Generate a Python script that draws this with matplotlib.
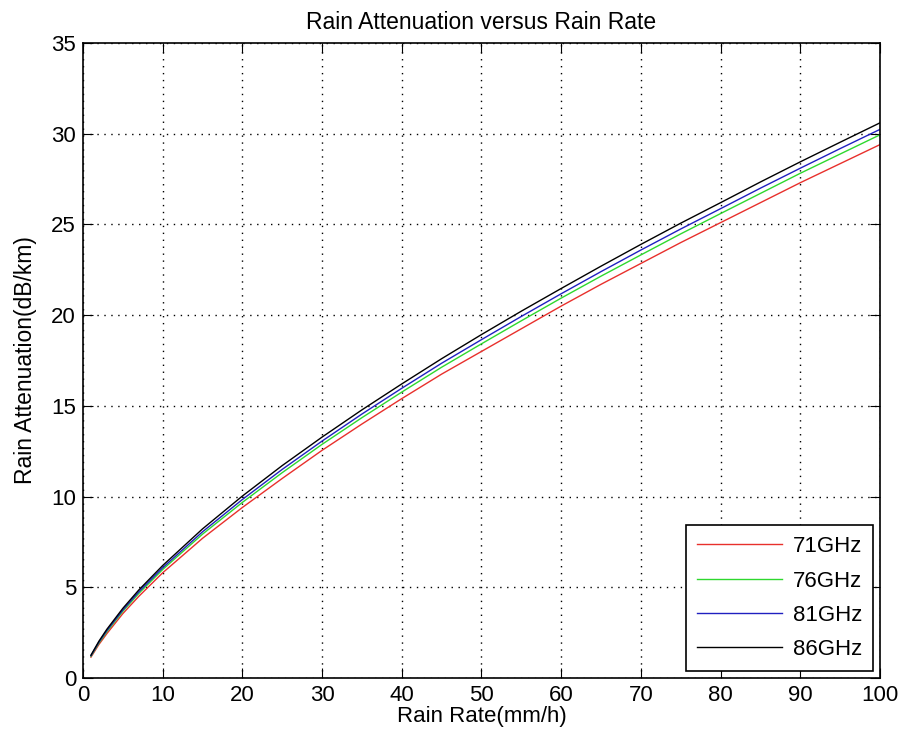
import matplotlib
matplotlib.use("Agg")
import matplotlib.pyplot as plt

plt.rcParams['font.family'] = ['Liberation Sans', 'DejaVu Sans']

# rain rate (mm/h)
rate = [1, 2, 3, 5, 7, 10, 15, 20, 25, 30, 35, 40, 45, 50, 55, 60, 65, 70, 75, 80, 85, 90, 95, 100]

# specific attenuation (dB/km)
att_71 = [1.15, 1.85, 2.45, 3.55, 4.5, 5.8, 7.7, 9.4, 11.0, 12.55, 14.0, 15.4, 16.75, 18.0,
          19.25, 20.5, 21.7, 22.85, 24.0, 25.1, 26.2, 27.3, 28.35, 29.4]
att_76 = [1.2, 1.93, 2.56, 3.68, 4.66, 5.98, 7.93, 9.68, 11.32, 12.88, 14.35, 15.76, 17.13, 18.42,
          19.69, 20.94, 22.15, 23.32, 24.48, 25.6, 26.71, 27.82, 28.88, 29.94]
att_81 = [1.23, 1.98, 2.62, 3.75, 4.75, 6.08, 8.06, 9.84, 11.5, 13.06, 14.55, 15.97, 17.35, 18.65,
          19.93, 21.18, 22.4, 23.59, 24.75, 25.87, 27.0, 28.1, 29.18, 30.24]
att_86 = [1.26, 2.03, 2.69, 3.84, 4.85, 6.2, 8.22, 10.03, 11.71, 13.28, 14.78, 16.21, 17.6, 18.93,
          20.22, 21.47, 22.7, 23.9, 25.07, 26.2, 27.34, 28.45, 29.53, 30.6]

labels = ['71GHz', '76GHz', '81GHz', '86GHz']
colors = ['#e8302c', '#2ed82e', '#2020c0', '#000000']

fig = plt.figure(figsize=(9.06, 7.44), dpi=100)
ax = fig.add_axes([0.0916, 0.0887, 0.8797, 0.8535])

for y, lab, c in zip([att_71, att_76, att_81, att_86], labels, colors):
    ax.plot(rate, y, color=c, linewidth=1.0, label=lab)

ax.set_xlim(0, 100)
ax.set_ylim(0, 35)
ax.set_xticks(range(0, 101, 10))
ax.set_yticks(range(0, 36, 5))
ax.grid(True, color='black', linestyle=(0, (1, 4)), linewidth=1.0)
ax.tick_params(direction='in', top=True, right=True, length=7, labelsize=16, pad=5)
for s in ax.spines.values():
    s.set_linewidth(1.2)

ax.set_title('Rain Attenuation versus Rain Rate', fontsize=16.5, pad=10)
ax.set_xlabel('Rain Rate(mm/h)', fontsize=16, labelpad=0)
ax.set_ylabel('Rain Attenuation(dB/km)', fontsize=16.5, labelpad=10)

leg = ax.legend(loc='lower right', fontsize=16, fancybox=False, framealpha=1,
                edgecolor='black', handlelength=3.8, handletextpad=0.5,
                borderaxespad=0.3, labelspacing=0.6, borderpad=0.5)
leg.get_frame().set_linewidth(1.2)

fig.savefig('out.png', dpi=100)
